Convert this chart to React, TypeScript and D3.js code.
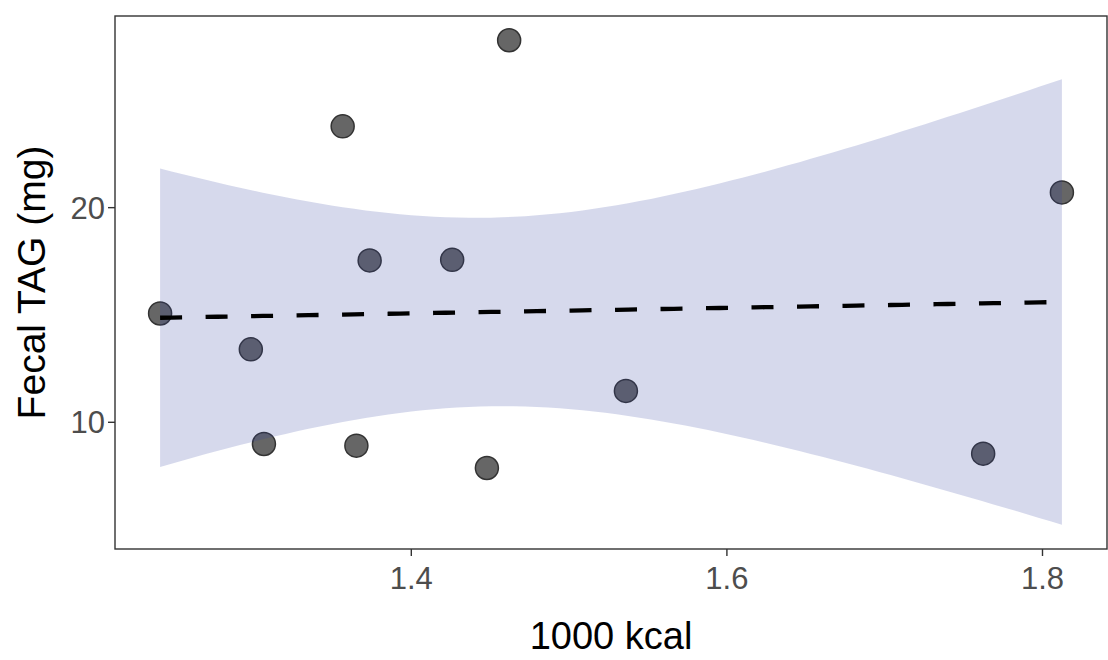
import React from "react";
import * as d3 from "d3";

const kcal = [1.2408, 1.3565, 1.3736, 1.4259, 1.2983, 1.3066, 1.3652, 1.4479, 1.462, 1.536, 1.7624, 1.8123];
const tag = [15.07, 23.79, 17.54, 17.57, 13.4, 8.99, 8.91, 7.87, 27.8, 11.46, 8.54, 20.71];
const xTicks = [1.4, 1.6, 1.8];
const yTicks = [10, 20];
const xTitle = "1000 kcal";
const yTitle = "Fecal TAG (mg)";

const W = 1108, H = 660;
const M = { left: 115, right: 1, top: 16, bottom: 111 };

function lmBand() {
  const n = kcal.length;
  const mx = d3.mean(kcal)!;
  const my = d3.mean(tag)!;
  let sxx = 0, sxy = 0, syy = 0;
  for (let i = 0; i < n; i++) {
    const dx = kcal[i] - mx, dy = tag[i] - my;
    sxx += dx * dx; sxy += dx * dy; syy += dy * dy;
  }
  const b = sxy / sxx;
  const a = my - b * mx;
  const s = Math.sqrt((syy - b * sxy) / (n - 2));
  const t = 2.228139; // t(0.975, df = 10)
  const [x0, x1] = d3.extent(kcal) as [number, number];
  const pts = d3.range(80).map((i) => {
    const x = x0 + (x1 - x0) * (i / 79);
    const fit = a + b * x;
    const se = s * Math.sqrt(1 / n + (x - mx) ** 2 / sxx);
    return { x, fit, lo: fit - t * se, hi: fit + t * se };
  });
  return pts;
}

export default function App() {
  const band = lmBand();
  const xMinD = d3.min(kcal)!, xMaxD = d3.max(kcal)!;
  const yMinD = d3.min(band, (d) => d.lo)!;
  const yMaxD = Math.max(d3.max(tag)!, d3.max(band, (d) => d.hi)!);
  const xr = xMaxD - xMinD, yr = yMaxD - yMinD;
  const x = d3.scaleLinear().domain([xMinD - 0.05 * xr, xMaxD + 0.05 * xr]).range([M.left, W - M.right]);
  const y = d3.scaleLinear().domain([yMinD - 0.05 * yr, yMaxD + 0.05 * yr]).range([H - M.bottom, M.top]);

  const area = d3.area<any>().x((d) => x(d.x)).y0((d) => y(d.lo)).y1((d) => y(d.hi));
  const line = d3.line<any>().x((d) => x(d.x)).y((d) => y(d.fit));

  const font = "'Liberation Sans', Arial, Helvetica, sans-serif";
  const px0 = M.left, px1 = W - M.right, py0 = M.top, py1 = H - M.bottom;

  return (
    <svg width={W} height={H} style={{ position: "absolute", left: 0, top: 0, background: "#fff" }} fontFamily={font}>
      <rect x={0} y={0} width={W} height={H} fill="#fff" />
      {kcal.map((v, i) => (
        <circle key={i} cx={x(v)} cy={y(tag[i])} r={11.5} fill="#666666" stroke="#333333" strokeWidth={1.5} />
      ))}
      <path d={area(band) || ""} fill="rgb(50,65,160)" fillOpacity={0.2} />
      <path d={line(band) || ""} fill="none" stroke="#000" strokeWidth={4.3} strokeDasharray="22 23.5" />
      <rect x={px0} y={py0} width={px1 - px0} height={py1 - py0} fill="none" stroke="#333333" strokeWidth={1.4} />
      {xTicks.map((t) => (
        <g key={t}>
          <line x1={x(t)} x2={x(t)} y1={py1} y2={py1 + 7} stroke="#333333" strokeWidth={1.4} />
          <text x={x(t)} y={589} textAnchor="middle" fontSize={31} fill="#4d4d4d">{t.toFixed(1)}</text>
        </g>
      ))}
      {yTicks.map((t) => (
        <g key={t}>
          <line x1={px0 - 7} x2={px0} y1={y(t)} y2={y(t)} stroke="#333333" strokeWidth={1.4} />
          <text x={px0 - 10} y={y(t)} dy="0.36em" textAnchor="end" fontSize={31} fill="#4d4d4d">{t}</text>
        </g>
      ))}
      <text x={(px0 + px1) / 2} y={649} textAnchor="middle" fontSize={38} fill="#000">{xTitle}</text>
      <text transform={`translate(45,${(py0 + py1) / 2}) rotate(-90)`} textAnchor="middle" fontSize={39} fill="#000">{yTitle}</text>
    </svg>
  );
}
